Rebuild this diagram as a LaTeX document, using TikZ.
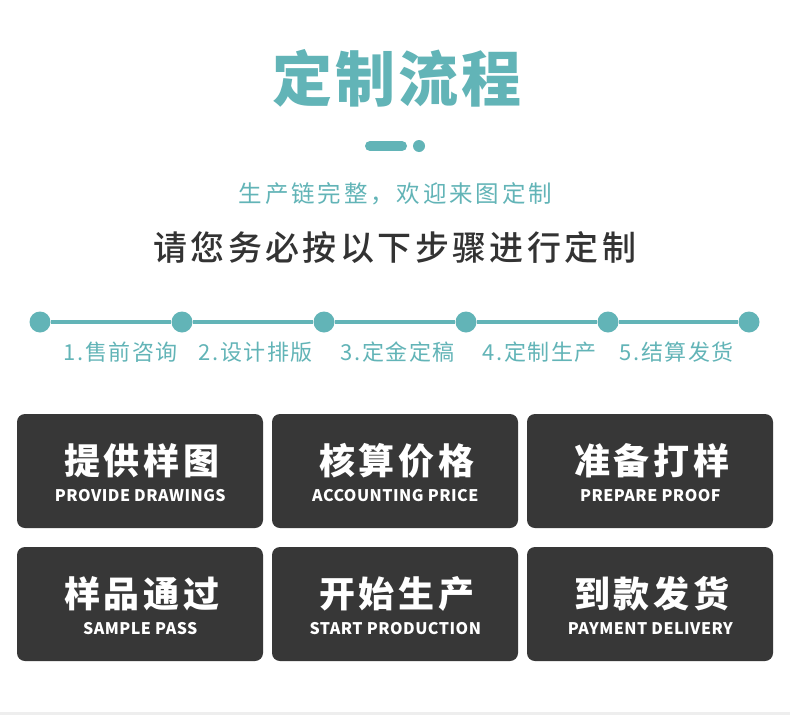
\documentclass[tikz,border=0pt]{standalone}
\usepackage{fontspec}
\newfontfamily\cjk{Noto Sans CJK SC}
\newfontfamily\cjkheavy{Noto Sans CJK SC Black}
\newfontfamily\cjkmed{Noto Sans CJK SC Medium}
\definecolor{tealmain}{HTML}{62B4B7}
\definecolor{boxgray}{HTML}{373737}
\definecolor{textgray}{HTML}{333333}
\definecolor{footgray}{HTML}{EEEEEE}
\usetikzlibrary{positioning}

\begin{document}
\begin{tikzpicture}[x=1pt,y=-1pt,
    dot/.style={circle,fill=tealmain,inner sep=0pt,minimum size=21pt},
    link/.style={tealmain,line width=4.5pt},
    stage/.style={font=\cjk\addfontfeatures{LetterSpace=7}\fontsize{22}{22}\selectfont,text=tealmain,inner sep=0pt,xshift=0.8pt},
    stepbox/.style={rectangle,rounded corners=8pt,fill=boxgray,minimum width=246pt,minimum height=114pt,inner sep=0pt},
    zh/.style={font=\cjk\bfseries\addfontfeatures{LetterSpace=10}\fontsize{36}{36}\selectfont,text=white,inner sep=0pt,xshift=1.8pt},
    en/.style={font=\cjk\bfseries\addfontfeatures{LetterSpace=3}\fontsize{16}{16}\selectfont,text=white,inner sep=0pt,xshift=0.3pt}
]
    \useasboundingbox[fill=white] (0,0) rectangle (790,715);
    \fill[footgray] (0,712) rectangle (790,715);

    % heading
    \node[font=\cjkheavy\addfontfeatures{LetterSpace=5}\fontsize{60}{60}\selectfont,text=tealmain,inner sep=0pt,xshift=1.5pt] (title) at (395,78) {定制流程};
    \coordinate (barL) at (370,146);
    \coordinate (barR) at (402,146);
    \draw[tealmain,line width=10pt,line cap=round] (barL) -- (barR);
    \node[circle,fill=tealmain,inner sep=0pt,minimum size=12pt] (bardot) at (419,146) {};
    \node[font=\cjk\addfontfeatures{LetterSpace=12}\fontsize{23.5}{23.5}\selectfont,text=tealmain,inner sep=0pt,xshift=1.4pt] (sub) at (394,194) {生产链完整，欢迎来图定制};
    \node[font=\cjkmed\addfontfeatures{LetterSpace=10}\fontsize{34}{34}\selectfont,text=textgray,inner sep=0pt,xshift=1.7pt] (hint) at (393,248) {请您务必按以下步骤进行定制};

    % timeline
    \node[dot] (d0) at (40,322) {};
    \node[dot] (d1) at (182,322) {};
    \node[dot] (d2) at (324,322) {};
    \node[dot] (d3) at (466,322) {};
    \node[dot] (d4) at (608,322) {};
    \node[dot] (d5) at (749,322) {};
    \draw[link] (d0) -- (d1) -- (d2) -- (d3) -- (d4) -- (d5);

    \node[stage] (s1) at (120,352) {1.售前咨询};
    \node[stage] (s2) at (255,352) {2.设计排版};
    \node[stage] (s3) at (397,352) {3.定金定稿};
    \node[stage] (s4) at (539,352) {4.定制生产};
    \node[stage] (s5) at (676,352) {5.结算发货};

    % steps
    \node[stepbox] (b1) at (140,471) {};
    \node[stepbox] (b2) at (395,471) {};
    \node[stepbox] (b3) at (650,471) {};
    \node[stepbox] (b4) at (140,604) {};
    \node[stepbox] (b5) at (395,604) {};
    \node[stepbox] (b6) at (650,604) {};

    \node[zh] at (140,461) {提供样图};
    \node[en] at (140,495.5) {PROVIDE DRAWINGS};
    \node[zh] at (395,461) {核算价格};
    \node[en] at (395,495.5) {ACCOUNTING PRICE};
    \node[zh] at (650,461) {准备打样};
    \node[en] at (650,495.5) {PREPARE PROOF};
    \node[zh] at (140,594) {样品通过};
    \node[en] at (140,628.5) {SAMPLE PASS};
    \node[zh] at (395,594) {开始生产};
    \node[en] at (395,628.5) {START PRODUCTION};
    \node[zh] at (650,594) {到款发货};
    \node[en] at (650,628.5) {PAYMENT DELIVERY};
\end{tikzpicture}
\end{document}
